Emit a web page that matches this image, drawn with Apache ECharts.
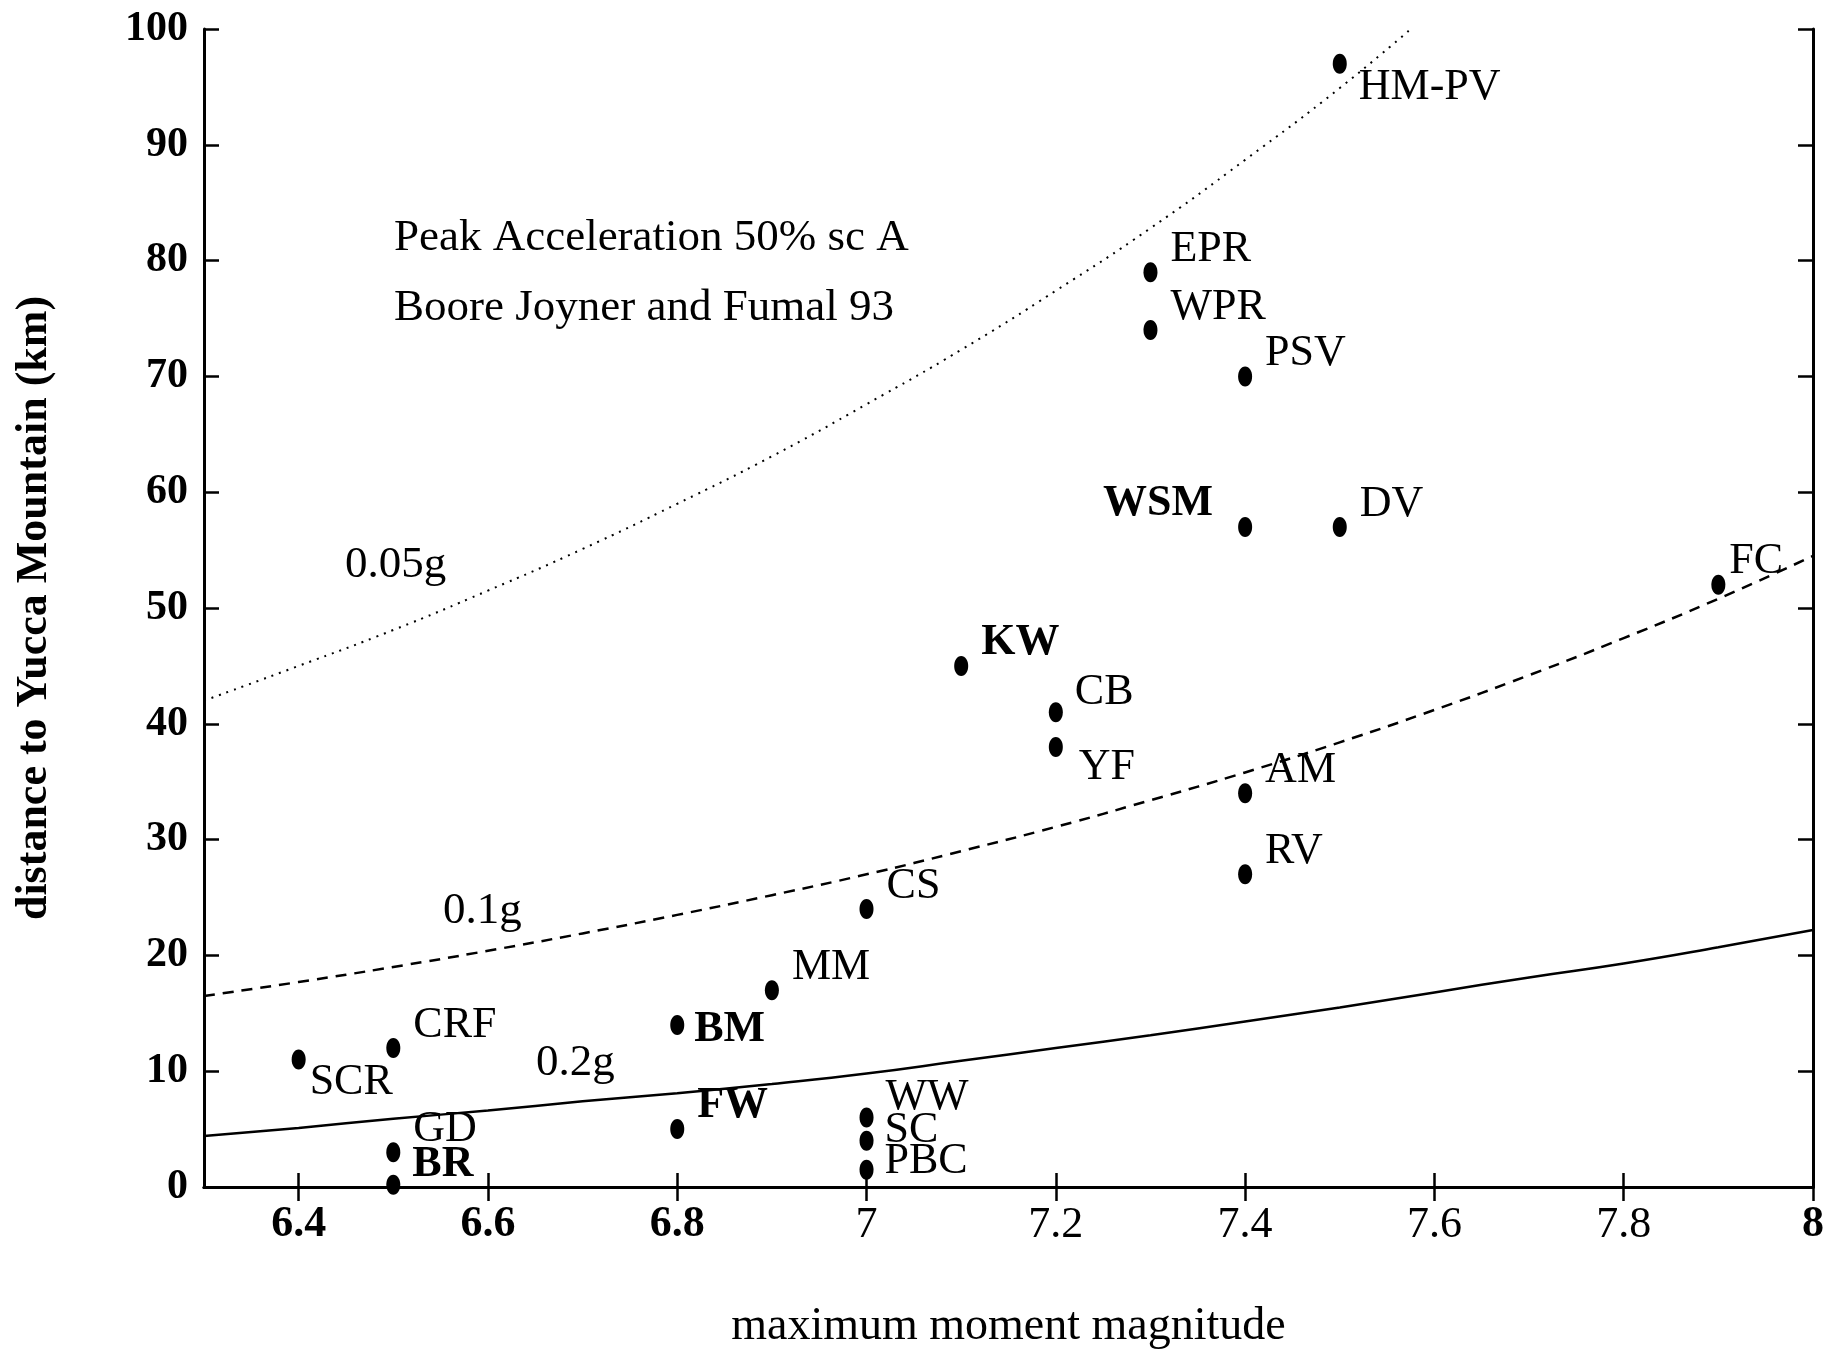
<!DOCTYPE html>
<html>
<head>
<meta charset="utf-8">
<script src="https://cdn.jsdelivr.net/npm/echarts@6/dist/echarts.min.js"></script>
<style>
  html, body { margin: 0; padding: 0; background: #fff; }
  #chart { width: 1828px; height: 1355px; }
</style>
</head>
<body>
<div id="chart"></div>
<script>
// faults: name, maximum moment magnitude, distance to Yucca Mountain (km)
const faultNames = ['HM-PV', 'EPR', 'WPR', 'PSV', 'WSM', 'DV', 'FC', 'KW', 'CB', 'YF', 'AM', 'RV',
  'CS', 'MM', 'BM', 'CRF', 'SCR', 'FW', 'WW', 'SC', 'PBC', 'GD', 'BR'];
const faultMag = [7.5, 7.3, 7.3, 7.4, 7.4, 7.5, 7.9, 7.1, 7.2, 7.2, 7.4, 7.4,
  7.0, 6.9, 6.8, 6.5, 6.4, 6.8, 7.0, 7.0, 7.0, 6.5, 6.5];
const faultDist = [97, 79, 74, 70, 57, 57, 52, 45, 41, 38, 34, 27,
  24, 17, 14, 12, 11, 5, 6, 4, 1.5, 3, 0.2];

// peak acceleration contours (Boore Joyner Fumal 93)
const mag05 = [6.3, 6.4, 6.5, 6.6, 6.7, 6.8, 6.9, 7.0, 7.1, 7.2, 7.3, 7.4, 7.5, 7.575];
const dist05 = [42.0, 45.0, 48.1, 51.5, 55.1, 59.0, 63.1, 67.6, 72.3, 77.4, 82.8, 88.7, 94.9, 100];
const magCurve = [6.3, 6.4, 6.5, 6.6, 6.7, 6.8, 6.9, 7.0, 7.1, 7.2, 7.3, 7.4, 7.5, 7.6, 7.7, 7.8, 7.9, 8.0];
const dist10 = [16.5, 17.7, 19.0, 20.4, 21.9, 23.5, 25.2, 27.0, 29.0, 31.1, 33.4, 35.8, 38.4, 41.2, 44.2, 47.4, 50.8, 54.5];
const dist20 = [4.4, 5.1, 5.9, 6.6, 7.4, 8.1, 8.9, 9.8, 10.9, 12.0, 13.1, 14.3, 15.5, 16.8, 18.1, 19.3, 20.7, 22.2];

const magTicks = [6.4, 6.6, 6.8, 7, 7.2, 7.4, 7.6, 7.8, 8];

// label styling
const FONT = '"Liberation Serif", "DejaVu Serif", serif';
const boldTickLabels = [6.4, 6.6, 6.8, 8];
const boldNames = ['WSM', 'KW', 'BM', 'FW', 'BR'];
// [side, gap from dot, vertical shift]
const labelPlace = {
  'HM-PV': ['right', 12, 24], 'WSM': ['left', 25, -23], 'FC': ['right', 4, -23],
  'CB': ['right', 12, -20], 'YF': ['right', 16, 20], 'BM': ['right', 10, 5],
  'SCR': ['right', 4, 23], 'WW': ['right', 12, -20], 'SC': ['right', 11, -10],
  'PBC': ['right', 11, -8], 'BR': ['right', 12, -20]
};

const chart = echarts.init(document.getElementById('chart'));

const points = faultNames.map((n, i) => {
  const p = labelPlace[n] || ['right', 13, -23];
  return {
    name: n,
    value: [faultMag[i], faultDist[i]],
    label: {
      show: true,
      formatter: '{b}',
      position: p[0],
      distance: p[1],
      offset: [0, p[2]],
      fontFamily: FONT,
      fontSize: 44,
      fontWeight: boldNames.includes(n) ? 'bold' : 'normal',
      color: '#000'
    }
  };
});

const axisLine = { show: true, lineStyle: { color: '#000', width: 3 } };
const tickStyle = { color: '#000', width: 2.5 };

const option = {
  backgroundColor: '#fff',
  animation: false,
  grid: { left: 204, right: 15, top: 29, bottom: 165 },
  xAxis: [
    {
      type: 'value', min: 6.3, max: 8, position: 'bottom',
      axisLine: axisLine,
      axisTick: { inside: true, length: 14, customValues: magTicks, lineStyle: tickStyle },
      axisLabel: {
        customValues: magTicks, margin: 16,
        formatter: v => (boldTickLabels.includes(v) ? '{b|' : '{n|') + v + '}',
        rich: {
          b: { fontFamily: FONT, fontSize: 44, fontWeight: 'bold', color: '#000' },
          n: { fontFamily: FONT, fontSize: 44, fontWeight: 'normal', color: '#000' }
        }
      },
      splitLine: { show: false },
      name: 'maximum moment magnitude',
      nameLocation: 'middle',
      nameGap: 117,
      nameTextStyle: { fontFamily: FONT, fontSize: 46, color: '#000' }
    },
    {
      type: 'value', min: 6.3, max: 8, position: 'top',
      axisLine: axisLine,
      axisTick: { inside: true, length: 14, customValues: magTicks, lineStyle: tickStyle },
      axisLabel: { show: false },
      splitLine: { show: false }
    }
  ],
  yAxis: [
    {
      type: 'value', min: 0, max: 100, interval: 10, position: 'left',
      axisLine: axisLine,
      axisTick: { inside: true, length: 15, lineStyle: tickStyle },
      axisLabel: { margin: 16, fontFamily: FONT, fontSize: 42, fontWeight: 'bold', color: '#000' },
      splitLine: { show: false },
      name: 'distance to Yucca Mountain (km)',
      nameLocation: 'middle',
      nameGap: 147,
      nameTextStyle: { fontFamily: FONT, fontSize: 44, fontWeight: 'bold', color: '#000' }
    },
    {
      type: 'value', min: 0, max: 100, interval: 10, position: 'right',
      axisLine: axisLine,
      axisTick: { inside: true, length: 15, lineStyle: tickStyle },
      axisLabel: { show: false },
      splitLine: { show: false }
    }
  ],
  series: [
    {
      type: 'line', xAxisIndex: 0, yAxisIndex: 0, smooth: true, showSymbol: false, silent: true,
      data: mag05.map((m, i) => [m, dist05[i]]),
      lineStyle: { color: '#000', width: 2, type: [2, 6] }
    },
    {
      type: 'line', xAxisIndex: 0, yAxisIndex: 0, smooth: true, showSymbol: false, silent: true,
      data: magCurve.map((m, i) => [m, dist10[i]]),
      lineStyle: { color: '#000', width: 2.5, type: [11, 8] }
    },
    {
      type: 'line', xAxisIndex: 0, yAxisIndex: 0, smooth: true, showSymbol: false, silent: true,
      data: magCurve.map((m, i) => [m, dist20[i]]),
      lineStyle: { color: '#000', width: 2.5, type: 'solid' }
    },
    {
      type: 'scatter', xAxisIndex: 0, yAxisIndex: 0,
      symbol: 'path://M50,0 C80,0 100,45 100,100 C100,155 80,200 50,200 C20,200 0,155 0,100 C0,45 20,0 50,0 Z',
      symbolSize: [14, 20],
      itemStyle: { color: '#000', opacity: 1 },
      data: points
    }
  ],
  graphic: [
    { type: 'text', x: 394, y: 238, style: { text: 'Peak Acceleration 50% sc A', fontFamily: FONT, fontSize: 45, fill: '#000', verticalAlign: 'middle' } },
    { type: 'text', x: 394, y: 308, style: { text: 'Boore Joyner and Fumal 93', fontFamily: FONT, fontSize: 45, fill: '#000', verticalAlign: 'middle' } },
    { type: 'text', x: 345, y: 565, style: { text: '0.05g', fontFamily: FONT, fontSize: 45, fill: '#000', verticalAlign: 'middle' } },
    { type: 'text', x: 443, y: 911, style: { text: '0.1g', fontFamily: FONT, fontSize: 45, fill: '#000', verticalAlign: 'middle' } },
    { type: 'text', x: 536, y: 1063, style: { text: '0.2g', fontFamily: FONT, fontSize: 45, fill: '#000', verticalAlign: 'middle' } }
  ]
};

chart.setOption(option);
</script>
</body>
</html>
